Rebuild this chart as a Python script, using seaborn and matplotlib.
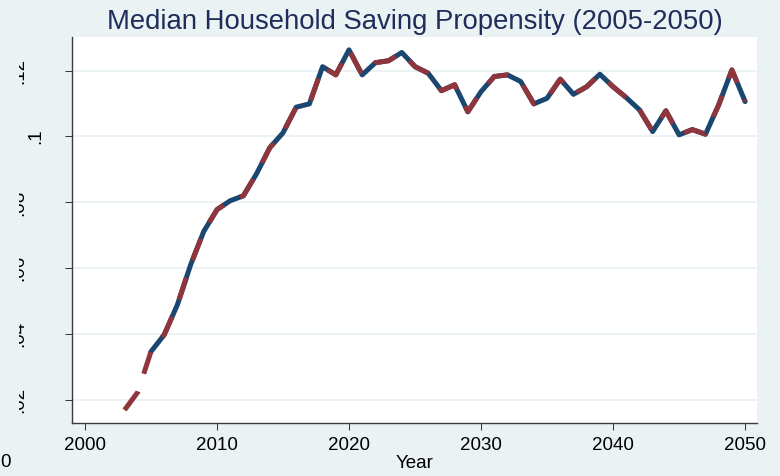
import matplotlib
matplotlib.use("Agg")
import matplotlib.pyplot as plt
import seaborn as sns
from matplotlib.transforms import blended_transform_factory, Bbox, TransformedBbox

# ---- data ----
years_red = list(range(2003, 2051))
saving_red = [0.0170, 0.0224, 0.0347, 0.0398, 0.0489, 0.0610, 0.0712, 0.0778,
              0.0805, 0.0820, 0.0887, 0.0966, 0.1011, 0.1089, 0.1099, 0.1212,
              0.1187, 0.1263, 0.1187, 0.1224, 0.1230, 0.1255, 0.1212, 0.1192,
              0.1139, 0.1157, 0.1075, 0.1136, 0.1182, 0.1187, 0.1167, 0.1099,
              0.1116, 0.1174, 0.1128, 0.1151, 0.1189, 0.1151, 0.1118, 0.1081,
              0.1015, 0.1078, 0.1005, 0.1021, 0.1007, 0.1096, 0.1202, 0.1106]
years_blue = list(range(2005, 2051))
saving_blue = [0.0347, 0.0398, 0.0489, 0.0610, 0.0712, 0.0778,
               0.0805, 0.0820, 0.0887, 0.0966, 0.1011, 0.1089, 0.1099, 0.1212,
               0.1187, 0.1263, 0.1187, 0.1224, 0.1230, 0.1255, 0.1212, 0.1192,
               0.1139, 0.1157, 0.1075, 0.1136, 0.1182, 0.1187, 0.1167, 0.1099,
               0.1116, 0.1174, 0.1128, 0.1151, 0.1189, 0.1151, 0.1118, 0.1081,
               0.1015, 0.1078, 0.1005, 0.1021, 0.1007, 0.1096, 0.1202, 0.1106]
x_ticks = [2000, 2010, 2020, 2030, 2040, 2050]
y_ticks = [0.02, 0.04, 0.06, 0.08, 0.10, 0.12]
y_tick_labels = [".02", ".04", ".06", ".08", ".1", ".12"]
title = "Median Household Saving Propensity (2005-2050)"
x_label = "Year"
stray_label = "0"

# ---- style ----
BG = "#eaf2f3"
BLUE = "#1a476f"
RED = "#90353b"
TITLE_C = "#1e2d5a"
SPINE = "#3a3a3a"

sns.set_theme(style="white")
plt.rcParams["font.family"] = ["Liberation Sans", "DejaVu Sans"]

fig = plt.figure(figsize=(7.8, 4.76), dpi=100, facecolor=BG)
ax = fig.add_axes([0.0928, 0.1113, 0.8777, 0.811])
ax.set_facecolor("white")

sns.lineplot(x=years_blue, y=saving_blue, color=BLUE, linewidth=3.6, ax=ax)
sns.lineplot(x=years_red, y=saving_red, color=RED, linewidth=3.6, ax=ax)
ax.lines[-1].set_dashes([4.6, 3.7])

ax.set_xlim(1999.05, 2050.9)
ax.set_ylim(0.01304, 0.1302)
ax.set_xticks(x_ticks)
ax.set_yticks(y_ticks)
ax.grid(axis="y", color=BG, linewidth=1.4)
ax.set_axisbelow(True)

for s in ["top", "right"]:
    ax.spines[s].set_visible(False)
for s in ["left", "bottom"]:
    ax.spines[s].set_color(SPINE)
    ax.spines[s].set_linewidth(1.0)

ax.tick_params(axis="x", direction="out", length=5, width=0.75, color=SPINE,
               labelsize=13.5, labelcolor="black", pad=5.4, bottom=True)
ax.tick_params(axis="y", direction="out", length=5.4, width=0.75, color=SPINE,
               labelleft=False, left=True)

ax.set_xlabel(x_label, fontsize=13.5, color="black")
ax.xaxis.set_label_coords(0.5, -0.0816)
ax.set_ylabel("")
ax.set_title(title, fontsize=19.8, color=TITLE_C, pad=5.8)

# rotated y tick labels (partially clipped at left as in reference)
trans = blended_transform_factory(fig.dpi_scale_trans, ax.transData)
clip = TransformedBbox(Bbox.from_extents(0.19, 0, 7.8, 4.76), fig.dpi_scale_trans)
for val, lbl in zip(y_ticks, y_tick_labels):
    xpx = 40.5 if len(lbl) == 2 else 23.5
    t = ax.text(xpx / 100, val, lbl, transform=trans, rotation=90,
                rotation_mode="anchor", ha="center", va="baseline",
                fontsize=13.5, color="black")
    t.set_clip_box(clip)
    t.set_clip_on(True)

fig.text(0.5 / 780, (476 - 467) / 476, stray_label, ha="left", va="baseline",
         fontsize=13.5, color="black")

fig.savefig("out.png", dpi=100, facecolor=BG)
